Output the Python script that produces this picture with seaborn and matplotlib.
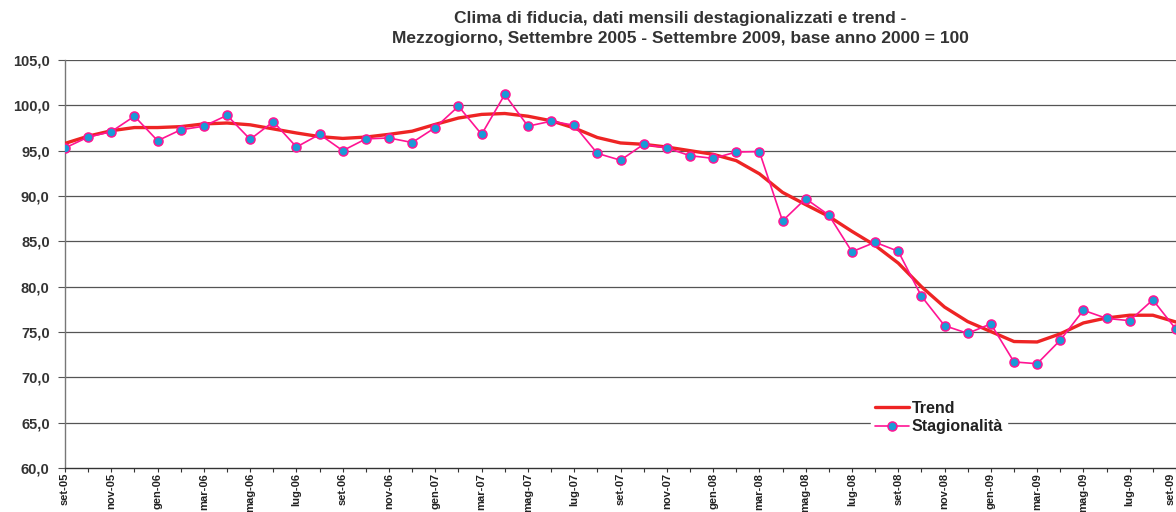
import matplotlib
matplotlib.use("Agg")
import matplotlib.pyplot as plt
import seaborn as sns
import pandas as pd
from matplotlib.ticker import FixedLocator, FuncFormatter

# ---- data ----
mesi = ["gen", "feb", "mar", "apr", "mag", "giu", "lug", "ago", "set", "ott", "nov", "dic"]
months = []
for k in range(49):
    m = (8 + k) % 12
    y = 5 + (8 + k) // 12
    months.append(f"{mesi[m]}-{y:02d}")

stagionalita = [95.3, 96.5, 97.1, 98.8, 96.1, 97.3, 97.7, 98.9, 96.25, 98.2,
                95.4, 96.8, 95.0, 96.3, 96.4, 95.9, 97.55, 99.9, 96.8, 101.2,
                97.7, 98.25, 97.8, 94.7, 93.95, 95.7, 95.3, 94.45, 94.15, 94.85,
                94.9, 87.25, 89.7, 87.9, 83.85, 84.9, 83.9, 78.95, 75.7, 74.85,
                75.9, 71.7, 71.5, 74.1, 77.4, 76.5, 76.25, 78.55, 75.3]
trend = [95.8, 96.6, 97.2, 97.55, 97.55, 97.65, 97.95, 98.05, 97.85, 97.4,
         96.95, 96.55, 96.35, 96.5, 96.8, 97.15, 97.9, 98.6, 99.0, 99.1,
         98.8, 98.3, 97.5, 96.45, 95.85, 95.7, 95.4, 95.0, 94.6, 93.9,
         92.45, 90.4, 89.05, 87.75, 86.1, 84.55, 82.6, 80.0, 77.75, 76.15,
         75.05, 73.95, 73.9, 74.8, 76.0, 76.55, 76.85, 76.85, 76.1]
y_ticks = [60, 65, 70, 75, 80, 85, 90, 95, 100, 105]
title_lines = ["Clima di fiducia, dati mensili destagionalizzati e trend -",
               "Mezzogiorno, Settembre 2005 - Settembre 2009, base anno 2000 = 100"]

df = pd.DataFrame({"idx": list(range(len(months))), "Trend": trend,
                   "Stagionalità": stagionalita})

sns.set_style("white")
plt.rcParams["font.family"] = ["Liberation Sans", "DejaVu Sans"]

W, H = 1176, 512
fig = plt.figure(figsize=(W / 100, H / 100), dpi=100)
ax = fig.add_axes([65 / W, 44 / H, 1111 / W, 408 / H])

sns.lineplot(data=df, x="idx", y="Trend", color="#EE2424", linewidth=2.4,
             ax=ax, label="Trend", zorder=3)
sns.lineplot(data=df, x="idx", y="Stagionalità", color="#FF1493", linewidth=1.2,
             marker="o", markersize=6.5, markerfacecolor="#1A9AD6",
             markeredgecolor="#FF1493", markeredgewidth=1.1,
             ax=ax, label="Stagionalità", zorder=4)

ax.set_xlim(0, 48)
ax.set_ylim(60, 105)
ax.set_xlabel("")
ax.set_ylabel("")

# grid
for v in y_ticks[1:]:
    ax.axhline(v, color="#555555", linewidth=0.9, zorder=1)

ax.yaxis.set_major_locator(FixedLocator(y_ticks))
ax.yaxis.set_major_formatter(FuncFormatter(lambda v, p: f"{v:.1f}".replace(".", ",")))
ax.set_xticks(list(range(len(months))))
ax.set_xticklabels([lab if i % 2 == 0 else "" for i, lab in enumerate(months)],
                   rotation=90, fontsize=8, fontweight="bold", color="#222222")
ax.get_xticklabels()[-1].set_horizontalalignment("right")
for lab in ax.get_yticklabels():
    lab.set_fontsize(10.5)
    lab.set_fontweight("bold")
    lab.set_color("#333333")

ax.tick_params(axis="x", direction="out", length=3, width=0.8, color="#333333", pad=0.5, bottom=True)
ax.tick_params(axis="y", direction="out", length=5, width=0.8, color="#555555", pad=6, left=True)

for s in ["top", "right"]:
    ax.spines[s].set_visible(False)
ax.spines["left"].set_color("#777777")
ax.spines["left"].set_linewidth(1.0)
ax.spines["bottom"].set_color("#333333")
ax.spines["bottom"].set_linewidth(1.0)

leg = ax.legend(loc="upper left", bbox_to_anchor=(871 / W, 1 - 397 / H),
                bbox_transform=fig.transFigure, frameon=True, fontsize=11.5,
                handlelength=2.1, handletextpad=0.2, labelspacing=0.2,
                borderpad=0.25, borderaxespad=0, fancybox=False)
leg.get_frame().set_facecolor("white")
leg.get_frame().set_edgecolor("white")
leg.get_frame().set_alpha(1)
for t in leg.get_texts():
    t.set_fontweight("bold")
    t.set_color("#222222")

fig.text(680 / W, 1 - 18 / H, title_lines[0], ha="center", va="center",
         fontsize=12.5, fontweight="bold", color="#333333")
fig.text(680 / W, 1 - 38 / H, title_lines[1], ha="center", va="center",
         fontsize=12.5, fontweight="bold", color="#333333")

fig.savefig("out.png", dpi=100, facecolor="white")
